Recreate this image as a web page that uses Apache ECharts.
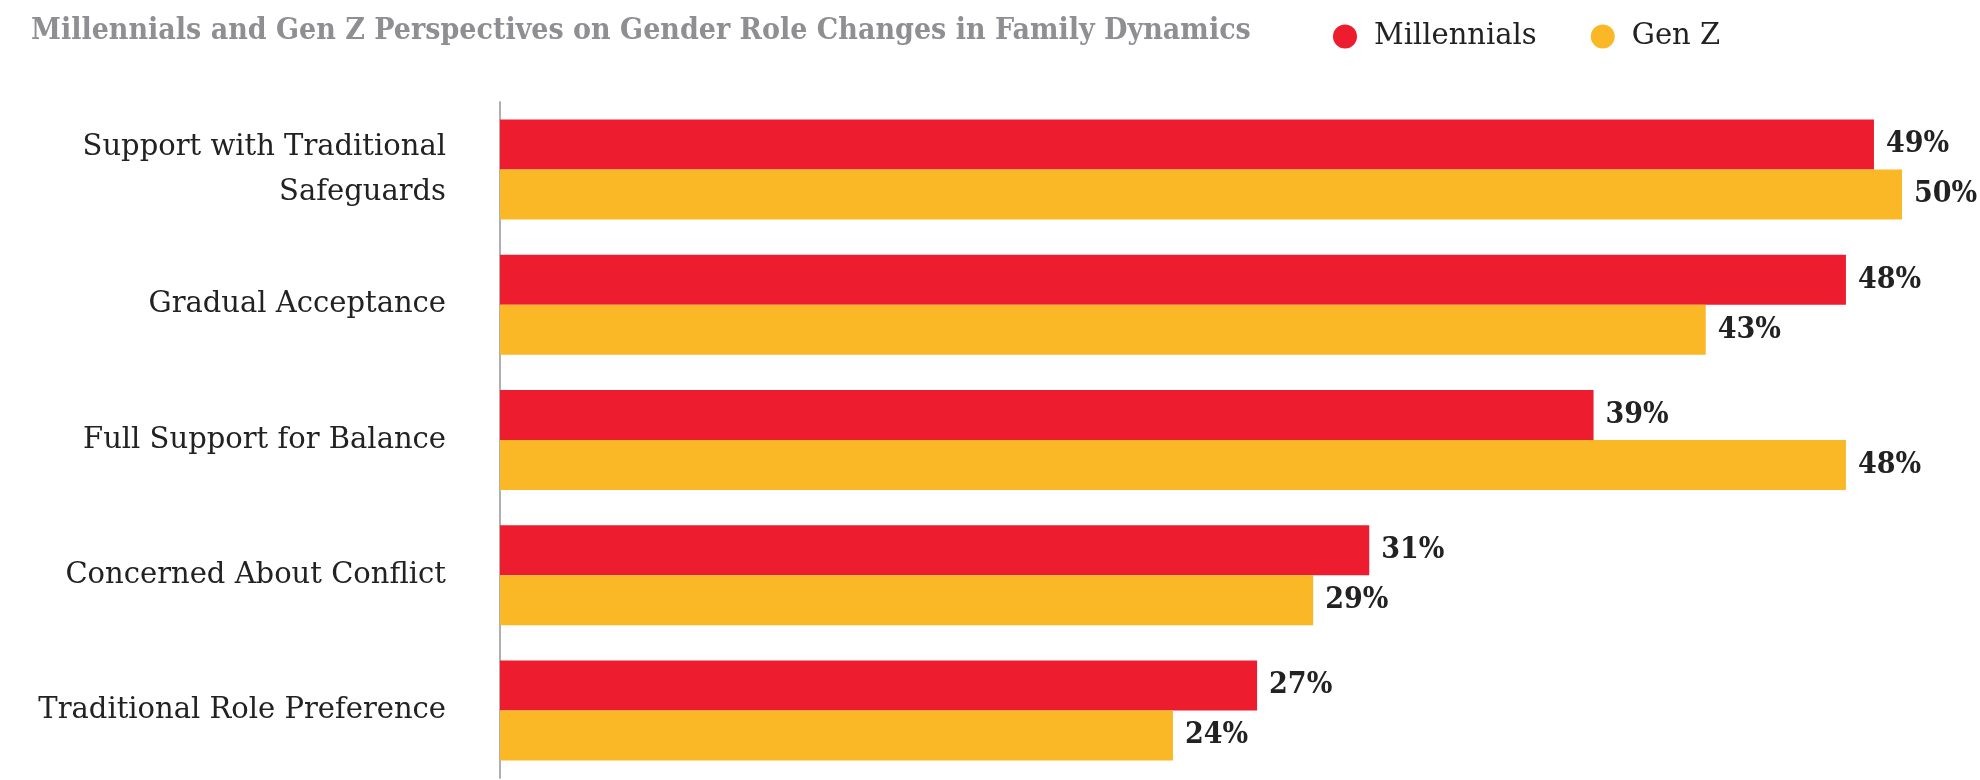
<!DOCTYPE html>
<html>
<head>
<meta charset="utf-8">
<script src="https://cdn.jsdelivr.net/npm/echarts@6/dist/echarts.min.js"></script>
<style>
  html, body { margin: 0; padding: 0; background: #fff; }
  #chart { width: 1980px; height: 780px; }
</style>
</head>
<body>
<div id="chart"></div>
<script>
// categories, top to bottom
const categories = [
    'Support with Traditional\nSafeguards',
    'Gradual Acceptance',
    'Full Support for Balance',
    'Concerned About Conflict',
    'Traditional Role Preference'
];
const millennials = [49, 48, 39, 31, 27];
const genZ = [50, 43, 48, 29, 24];

const fontFamily = '"DejaVu Serif", serif';
const boldFamily = '"DejaVu Serif Condensed", "DejaVu Serif", serif';
const chart = echarts.init(document.getElementById('chart'));

let option = {
    animation: false,
    title: {
        text: 'Millennials and Gen Z Perspectives on Gender Role Changes in Family Dynamics',
        left: 26,
        top: 11,
        textStyle: {
            fontFamily: boldFamily,
            fontWeight: 'bold',
            fontSize: 30,
            color: '#8e8e93'
        }
    },
    legend: {
        left: 1328,
        top: 17,
        icon: 'circle',
        itemWidth: 24,
        itemHeight: 24,
        itemGap: 54,
        textStyle: {
            fontFamily: fontFamily,
            fontSize: 29,
            color: '#222',
            padding: [0, 0, 0, 12]
        },
        data: ['Millennials', 'Gen Z']
    },
    grid: {
        left: 500,
        top: 102,
        width: 1402,
        bottom: 2,
        containLabel: false
    },
    xAxis: {
        type: 'value',
        min: 0,
        max: 50,
        show: false
    },
    yAxis: {
        type: 'category',
        inverse: true,
        data: categories,
        axisTick: { show: false },
        axisLine: { show: true, lineStyle: { color: '#b0b0b0', width: 2 } },
        axisLabel: {
            margin: 54,
            fontFamily: fontFamily,
            fontSize: 29,
            lineHeight: 45,
            color: '#222',
            align: 'right'
        }
    },
    series: [
        {
            name: 'Millennials',
            type: 'bar',
            data: millennials,
            barGap: '0%',
            barCategoryGap: '26%',
            itemStyle: { color: '#ed1c2e' },
            label: {
                show: true,
                position: 'right',
                distance: 12,
                formatter: '{c}%',
                fontFamily: boldFamily,
                fontWeight: 'bold',
                fontSize: 30,
                color: '#222'
            }
        },
        {
            name: 'Gen Z',
            type: 'bar',
            data: genZ,
            itemStyle: { color: '#fbb826' },
            label: {
                show: true,
                position: 'right',
                distance: 12,
                formatter: '{c}%',
                fontFamily: boldFamily,
                fontWeight: 'bold',
                fontSize: 30,
                color: '#222'
            }
        }
    ]
};
chart.setOption(option);
</script>
</body>
</html>
